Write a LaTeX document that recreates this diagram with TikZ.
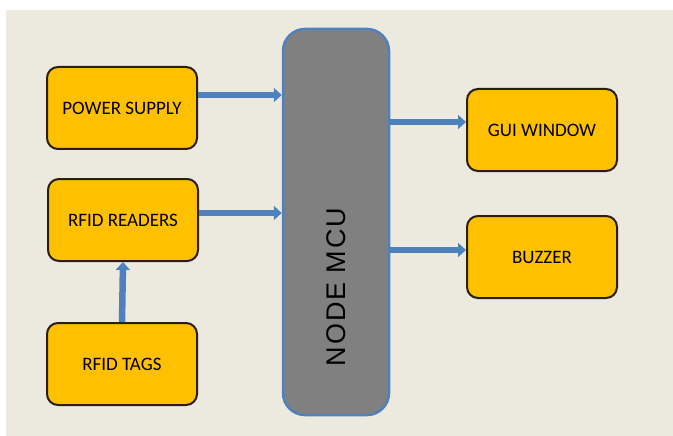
\documentclass[tikz,border=0pt]{standalone}
\usepackage{fontspec}
\setmainfont{Carlito}
\newfontfamily\mcufont[LetterSpace=7]{Liberation Sans}
\usetikzlibrary{arrows.meta}

\definecolor{paper}{HTML}{ECE9DF}
\definecolor{blockfill}{HTML}{FFC000}
\definecolor{blockline}{HTML}{2A1E10}
\definecolor{mcufill}{HTML}{808080}
\definecolor{flowblue}{HTML}{4F81BD}

\tikzset{
    block/.style = {
        draw = blockline,
        fill = blockfill,
        line width = 2pt,
        rounded corners = 11pt,
        minimum width = 150pt,
        minimum height = 82pt,
        font = \fontsize{19}{21}\selectfont
    },
    mcu/.style = {
        draw = flowblue,
        fill = mcufill,
        line width = 2.5pt,
        rounded corners = 22pt,
        minimum width = 106pt,
        minimum height = 386pt
    },
    flow/.style = {
        draw = flowblue,
        line width = 6.5pt,
        -{Triangle[width=14pt,length=8pt,fill=flowblue]}
    }
}

\begin{document}
\begin{tikzpicture}[x=1pt,y=-1pt]

    % page and background
    \useasboundingbox (0,0) rectangle (673,436);
    \fill[white] (0,0) rectangle (673,436);
    \fill[paper] (6,10) rectangle (673,436);

    % the controller
    \node [mcu] (mcu) at (336,222) {};
    \node [rotate=90, font=\mcufont\fontsize{27}{29}\selectfont] (mcutext) at ([yshift=-65pt]mcu.center) {NODE MCU};

    % inputs
    \node [block] (power) at (122,108) {POWER SUPPLY};
    \node [block] (readers) at (123,220) {RFID READERS};
    \node [block] (tags) at (122,364) {RFID TAGS};

    % outputs
    \node [block] (gui) at (542,130) {GUI WINDOW};
    \node [block] (buzzer) at (542,257) {BUZZER};

    % connections
    \draw [flow] ([yshift=13pt]power.east) -- ([yshift=13pt]power.east -| mcu.west);
    \draw [flow] ([yshift=7pt]readers.east) -- ([yshift=7pt]readers.east -| mcu.west);
    \draw [flow] (tags.north) -- (readers.south);
    \draw [flow] ([yshift=8pt]gui.west -| mcu.east) -- ([yshift=8pt]gui.west);
    \draw [flow] ([yshift=7pt]buzzer.west -| mcu.east) -- ([yshift=7pt]buzzer.west);

\end{tikzpicture}
\end{document}
